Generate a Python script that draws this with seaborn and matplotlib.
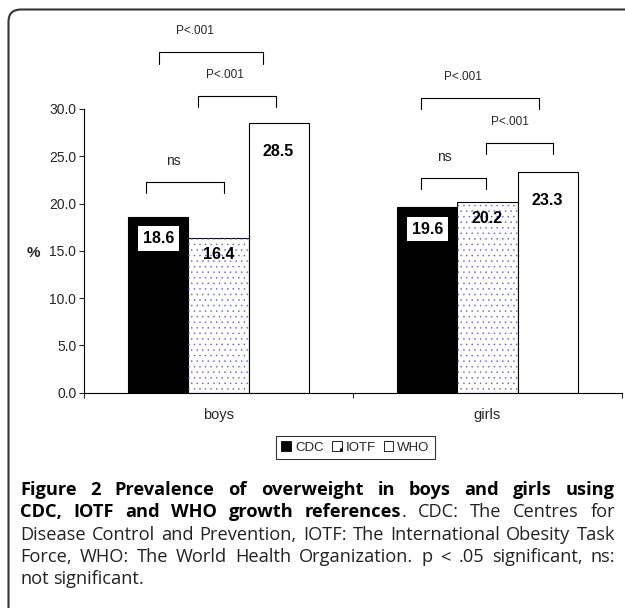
import pandas as pd
import seaborn as sns
import matplotlib.pyplot as plt
from matplotlib.patches import Patch, Rectangle, FancyBboxPatch

# Daten
gruppen = ["boys", "girls"]
referenzen = ["CDC", "IOTF", "WHO"]
cdc = [18.6, 19.6]
iotf = [16.4, 20.2]
who = [28.5, 23.3]

# Signifikanz-Klammern: (Text, x links, x rechts, Hoehe)
klammern_text = ["P<.001", "P<.001", "ns", "P<.001", "P<.001", "ns"]
klammern_links = [-0.222, -0.076, -0.269, 0.753, 0.996, 0.753]
klammern_rechts = [0.166, 0.214, 0.021, 1.193, 1.242, 0.996]
klammern_hoehe = [36.0, 31.4, 22.3, 31.2, 26.4, 22.7]

df = pd.DataFrame({
    "Gruppe": gruppen * 3,
    "Referenz": [r for r in referenzen for _ in gruppen],
    "Prozent": cdc + iotf + who,
})

sns.set_theme(style="white")
plt.rcParams["font.family"] = ["Liberation Sans", "DejaVu Sans"]
plt.rcParams["hatch.linewidth"] = 0.3

W, H = 625, 608
fig = plt.figure(figsize=(W / 100, H / 100), dpi=100)
ax = fig.add_axes([84 / W, 1 - 392.7 / H, 538 / W, 283.7 / H])

sns.barplot(data=df, x="Gruppe", y="Prozent", hue="Referenz", hue_order=referenzen,
            palette=["black", "white", "white"], saturation=1, width=0.67,
            edgecolor="black", linewidth=0.8, legend=False, ax=ax)

# gepunktete Fuellung fuer IOTF
for p in ax.containers[1]:
    ax.add_patch(Rectangle(p.get_xy(), p.get_width(), p.get_height(), fill=False,
                           hatch="...", edgecolor="#5a5ad0", linewidth=0, zorder=p.get_zorder() + 0.1))

# Werte in die Balken schreiben
versatz = [2.3, 1.8, 3.0]
for i, cont in enumerate(ax.containers):
    for p in cont:
        x = p.get_x() + p.get_width() / 2
        h = p.get_height()
        box = dict(boxstyle="square,pad=0.3", fc="white", ec="none") if i == 0 else None
        ax.text(x, h - versatz[i], f"{h:.1f}", ha="center", va="center", fontsize=11.5,
                fontweight="bold", color="black", bbox=box, zorder=5)

# Klammern
for t, xl, xr, y in zip(klammern_text, klammern_links, klammern_rechts, klammern_hoehe):
    ax.plot([xl, xl, xr, xr], [y - 1.2, y, y, y - 1.2], color="black", lw=0.8, clip_on=False)
    ax.text(xl + (xr - xl) * 0.35, y + 2.2, t, ha="center", va="center",
            fontsize=10 if t == "ns" else 8.5, clip_on=False)

ax.set_xlim(-0.5, 1.5)
ax.set_ylim(0, 30)
ax.set_yticks(range(0, 31, 5))
ax.set_yticklabels([f"{v:.1f}" for v in range(0, 31, 5)], fontsize=10)
ax.set_xticks([-0.5, 0.5, 1.5])
ax.set_xticklabels([])
ax.set_xticks([0, 1], minor=True)
ax.set_xticklabels(gruppen, minor=True, fontsize=10.5)
ax.tick_params(axis="x", which="major", direction="out", length=3.5, width=0.8, bottom=True)
ax.tick_params(axis="x", which="minor", length=0, pad=11, bottom=True)
ax.tick_params(axis="y", direction="out", length=3.5, width=0.8, left=True, pad=2)
ax.set_xlabel("")
ax.set_ylabel("")
for s in ["top", "right"]:
    ax.spines[s].set_visible(False)
for s in ["left", "bottom"]:
    ax.spines[s].set_color("black")
    ax.spines[s].set_linewidth(0.8)
fig.text(33 / W, 1 - 253 / H, "%", fontsize=11, fontweight="bold", ha="center", va="center")

# Legende
handles = [Patch(facecolor="black", edgecolor="black", lw=0.6),
           Patch(facecolor="white", edgecolor="black", hatch=".", lw=0.6),
           Patch(facecolor="white", edgecolor="black", lw=0.6)]
leg = fig.legend(handles, referenzen, loc="center", bbox_to_anchor=(355.5 / W, 1 - 447.5 / H),
                 ncol=3, fontsize=9.5, frameon=True, fancybox=False, handlelength=0.75,
                 handleheight=0.75, handletextpad=0.3, columnspacing=0.6, borderpad=0.4)
leg.get_frame().set_edgecolor("black")
leg.get_frame().set_linewidth(0.8)

# Rahmen
fig.patches.append(FancyBboxPatch((8.5 / W, -0.1), 1.2, 1.1 - 9.5 / H,
                                  boxstyle="round,pad=0,rounding_size=0.02",
                                  transform=fig.transFigure, fill=False,
                                  ec="#333333", lw=1.5, figure=fig))

# Bildunterschrift im Blocksatz
r = fig.canvas.get_renderer()
links, rechts = 20, 615
zeile3 = "Disease Control and Prevention, IOTF: The International Obesity Task"
probe = fig.text(0, 0, zeile3, fontsize=10, family="Open Sans")
groesse = 10 * (rechts - links) / probe.get_window_extent(r).width * 0.985
probe.remove()

zeilen = [
    ([[("Figure", 1)], [("2", 1)], [("Prevalence", 1)], [("of", 1)], [("overweight", 1)],
      [("in", 1)], [("boys", 1)], [("and", 1)], [("girls", 1)], [("using", 1)]], 495, True),
    ([[("CDC,", 1)], [("IOTF", 1)], [("and", 1)], [("WHO", 1)], [("growth", 1)],
      [("references", 1), (".", 0)], [("CDC:", 0)], [("The", 0)], [("Centres", 0)], [("for", 0)]], 517, True),
    ([[(w, 0)] for w in zeile3.split()], 540, True),
    ([[(w, 0)] for w in "Force, WHO: The World Health Organization. p < .05 significant, ns:".split()], 562, True),
    ([[(w, 0)] for w in "not significant.".split()], 584, False),
]
for woerter, y, blocksatz in zeilen:
    teile = []
    breiten = []
    for wort in woerter:
        b = 0
        ts = []
        for txt, fett in wort:
            t = fig.text(0, 1 - y / H, txt, fontsize=groesse, family="Open Sans",
                         fontweight="bold" if fett else "normal",
                         color="black" if fett else "#222222", va="baseline")
            ext = t.get_window_extent(r).width
            ts.append((t, ext))
            b += ext
        teile.append(ts)
        breiten.append(b)
    if blocksatz:
        luecke = (rechts - links - sum(breiten)) / (len(breiten) - 1)
    else:
        luecke = groesse * 0.36
    x = links
    for ts, b in zip(teile, breiten):
        xx = x
        for t, ext in ts:
            t.set_x(xx / W)
            xx += ext
        x += b + luecke

fig.savefig("out.png", dpi=100)
